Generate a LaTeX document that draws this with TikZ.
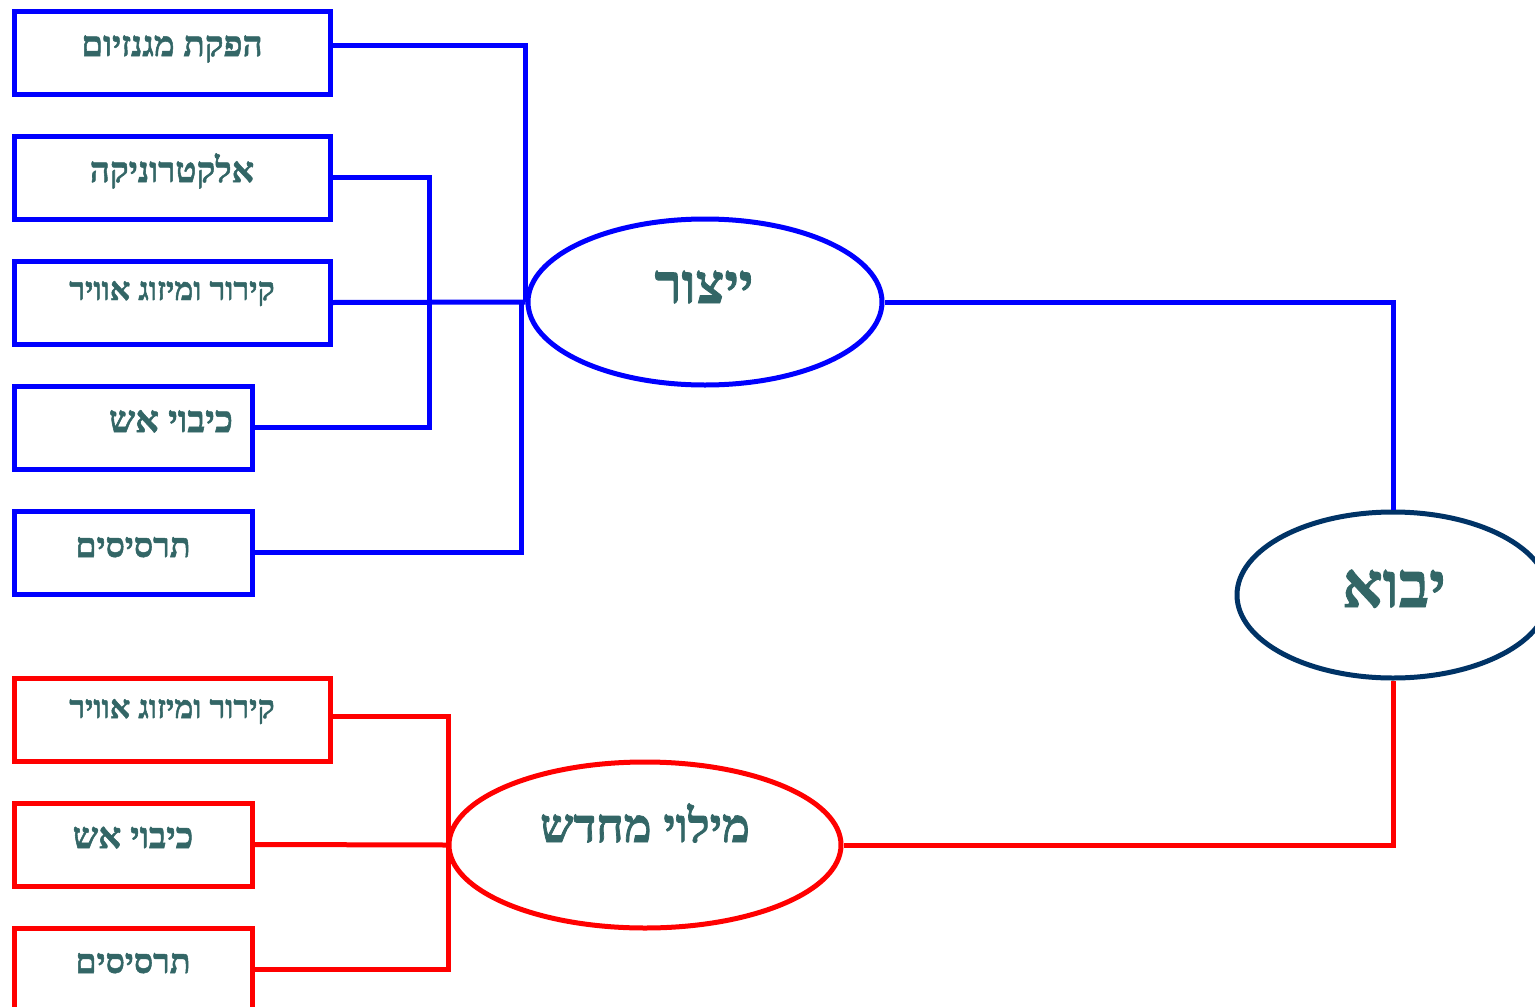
\documentclass[tikz,border=0pt]{standalone}
\usepackage{fontspec}
\usetikzlibrary{shapes.geometric}
\TeXXeTstate=1
\newfontfamily\hebfont[Script=Hebrew, BoldFont={Liberation Serif Bold}, BoldFeatures={FakeBold=1.5}]{Liberation Serif}
\definecolor{txt}{HTML}{336666}
\definecolor{navy}{HTML}{003366}
\newcommand{\hsz}[1]{\hebfont\bfseries\fontsize{#1}{#1}\selectfont}
\begin{document}
\begin{tikzpicture}[x=1pt,y=-1pt,
  wide/.style={draw, line width=5pt, rectangle, minimum width=316pt, minimum height=83pt, inner sep=0pt},
  narrow/.style={draw, line width=5pt, rectangle, minimum width=238pt, minimum height=83pt, inner sep=0pt},
  oval/.style={draw, line width=5pt, ellipse, inner sep=0pt},
  lbl/.style={text=txt, anchor=base, inner sep=0pt},
  bl/.style={blue, line width=5pt},
  rd/.style={red, line width=5pt}]
\useasboundingbox (0,0) rectangle (1535,1007);
% production branch
\node[wide, blue]   (b1) at (172,52.5)  {};
\node[wide, blue]   (b2) at (172,177.5) {};
\node[wide, blue]   (b3) at (172,302.5) {};
\node[narrow, blue] (b4) at (133,427.5) {};
\node[narrow, blue] (b5) at (133,552.5) {};
% refill branch
\node[wide, red]    (r6) at (172,719.5) {};
\node[narrow, red]  (r7) at (133,844.5) {};
\node[narrow, red]  (r8) at (133,969.5) {};
% ellipses
\node[oval, blue, minimum width=354pt, minimum height=166pt] (yz) at (705,302) {};
\node[oval, red,  minimum width=392pt, minimum height=166pt] (ml) at (645,845) {};
\node[oval, navy, minimum width=312pt, minimum height=166pt] (yb) at (1393,595) {};
% labels
\node[lbl, font=\hsz{35}] (t1) at (172,56)  {\beginR הפקת מגנזיום\endR};
\node[lbl, font=\hsz{35}] (t2) at (172,182) {\beginR אלקטרוניקה\endR};
\node[lbl, font=\hsz{32}] (t3) at (172,300) {\beginR קירור ומיזוג אוויר\endR};
\node[lbl, font=\hsz{37}] (t4) at (171,432) {\beginR כיבוי אש\endR};
\node[lbl, font=\hsz{34}] (t5) at (133,557) {\beginR תרסיסים\endR};
\node[lbl, font=\hsz{32}] (t6) at (172,718) {\beginR קירור ומיזוג אוויר\endR};
\node[lbl, font=\hsz{36}] (t7) at (133,848) {\beginR כיבוי אש\endR};
\node[lbl, font=\hsz{34}] (t8) at (133,973) {\beginR תרסיסים\endR};
\node[lbl, font=\hsz{55}] (ty) at (704,303) {\beginR ייצור\endR};
\node[lbl, font=\hsz{47}] (tm) at (645,842) {\beginR מילוי מחדש\endR};
\node[lbl, font=\hsz{63}] (tb) at (1394,607) {\beginR יבוא\endR};
% junctions
\coordinate (j1) at (429,302);
\coordinate (j3) at (448,845);
% blue connectors
\draw[bl] ([yshift=7.5pt]b1.east) -| (yz.west);
\draw[bl] (b2.east) -| (j1);
\draw[bl] (b4.east) -| (j1);
\draw[bl] (b3.east) -- (yz.west);
\draw[bl] (b5.east) -| ([xshift=-4pt]yz.west);
\draw[bl] (yz.east) -| (yb.north);
% red connectors
\draw[rd] ([yshift=3.5pt]r6.east) -| (j3);
\draw[rd] (r8.east) -| (j3);
\draw[rd] (r7.east) -- (ml.west);
\draw[rd] (ml.east) -| (yb.south);
\end{tikzpicture}
\end{document}
